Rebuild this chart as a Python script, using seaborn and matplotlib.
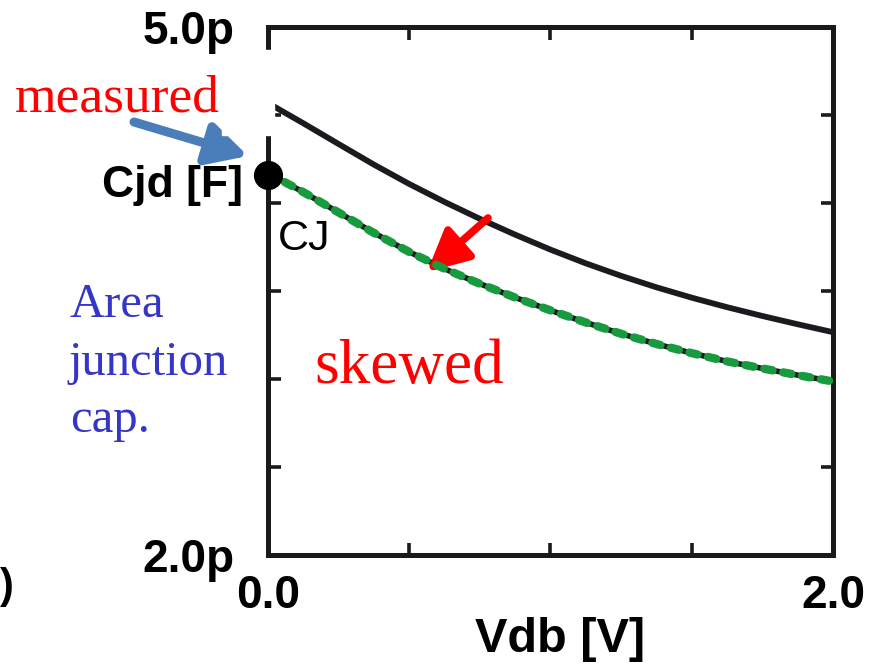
import pandas as pd
import matplotlib.pyplot as plt
import seaborn as sns
from matplotlib import font_manager
from matplotlib.font_manager import FontProperties
from matplotlib.ticker import MultipleLocator
from matplotlib.patches import Rectangle

# values
vdb = [0.0, 0.125, 0.25, 0.375, 0.5, 0.625, 0.75, 0.875, 1.0,
       1.125, 1.25, 1.375, 1.5, 1.625, 1.75, 1.875, 2.0]
cj_upper = [4.568, 4.453, 4.335, 4.218, 4.108, 4.006, 3.910, 3.820, 3.735,
            3.657, 3.586, 3.521, 3.462, 3.408, 3.358, 3.311, 3.266]
cj_lower = [4.170, 4.062, 3.946, 3.830, 3.722, 3.626, 3.541, 3.463, 3.390,
            3.321, 3.257, 3.199, 3.147, 3.100, 3.060, 3.022, 2.986]
measured_v = [0.0]
measured_c = [4.16]
x_ticks = [0.0, 2.0]
x_tick_labels = ["0.0", "2.0"]
y_ticks = [2.0, 5.0]
y_tick_labels = ["2.0p", "5.0p"]

W, H = 878, 669

sns.set_theme(style="ticks")
plt.rcParams['font.family'] = ['Liberation Sans', 'DejaVu Sans']
plt.rcParams['text.color'] = 'black'
plt.rcParams['xtick.color'] = 'black'
plt.rcParams['ytick.color'] = 'black'

# axis numbers are in a narrow bold face; use Liberation Sans Narrow if it is there
names = {f.name for f in font_manager.fontManager.ttflist}
if 'Liberation Sans Narrow' in names:
    cond_fp = FontProperties(family=['Liberation Sans Narrow', 'DejaVu Sans'], weight="bold")
    tick_size, xlabel_size = 36, 39
else:
    cond_fp = FontProperties(family=['Liberation Sans', 'DejaVu Sans'], weight="bold")
    tick_size, xlabel_size = 33, 35

serif = ['Liberation Serif', 'DejaVu Serif']


def fx(px):
    return px / W


def fy(py):
    return 1 - py / H


fig = plt.figure(figsize=(W / 100, H / 100), dpi=100)
fig.patch.set_facecolor("white")
ax = fig.add_axes([fx(268), fy(555), (833 - 268) / W, (555 - 27) / H])
ax.set_facecolor("white")

df_up = pd.DataFrame({"Vdb": vdb, "C": cj_upper})
df_lo = pd.DataFrame({"Vdb": vdb, "C": cj_lower})

sns.lineplot(data=df_up, x="Vdb", y="C", ax=ax, color="#1c1a1e", lw=4.2, zorder=3)
sns.lineplot(data=df_lo, x="Vdb", y="C", ax=ax, color="#1c1a1e", lw=4.0, zorder=3)
ln = sns.lineplot(data=df_lo, x="Vdb", y="C", ax=ax, color="#189a3e", lw=6, zorder=4)
ln.lines[-1].set_dashes([1.0, 1.3])
ln.lines[-1].set_dash_capstyle("round")

ax.plot(measured_v, measured_c, "o", color="black", ms=20, clip_on=False, zorder=6)

ax.set_xlim(0, 2)
ax.set_ylim(2, 5)
ax.set_xticks(x_ticks)
ax.set_xticklabels(x_tick_labels)
ax.set_yticks(y_ticks)
ax.set_yticklabels(y_tick_labels)
ax.xaxis.set_minor_locator(MultipleLocator(0.5))
ax.yaxis.set_minor_locator(MultipleLocator(0.5))
ax.tick_params(which="both", direction="in", top=True, right=True,
               width=2.6, color="#1a1a1a")
ax.tick_params(which="major", length=0)
ax.tick_params(which="minor", length=9)
ax.tick_params(axis="y", pad=24)
ax.tick_params(axis="x", pad=14)
for lab in ax.get_xticklabels() + ax.get_yticklabels():
    lab.set_fontproperties(cond_fp)
    lab.set_fontsize(tick_size)
    lab.set_color("black")
ax.set_xlabel("")
ax.set_ylabel("")
for s in ax.spines.values():
    s.set_linewidth(3.6)
    s.set_color("#1a1a1a")

# white patch that hides a piece of the left spine
fig.add_artist(Rectangle((fx(222), fy(135)), (274 - 222) / W, (135 - 50) / H,
                         transform=fig.transFigure, color="white", zorder=10))

t = fig.text(fx(560), fy(640), "Vdb [V]", ha="center", va="center")
t.set_fontproperties(cond_fp)
t.set_fontsize(xlabel_size)
fig.text(fx(243), fy(186), "Cjd [F]", fontweight="bold", fontsize=32,
         ha="right", va="center")
fig.text(fx(278), fy(250), "CJ", fontsize=31, ha="left", va="baseline")
fig.text(fx(0), fy(598), ")", fontweight="bold", fontsize=30, ha="left", va="baseline")

fig.text(fx(15), fy(112), "measured", family=serif, color="red", fontsize=38.5,
         ha="left", va="baseline")
fig.text(fx(314), fy(383), "skewed", family=serif, color="red", fontsize=45.5,
         ha="left", va="baseline")
blue = "#3535c8"
fig.text(fx(70), fy(317), "Area", family=serif, color=blue, fontsize=35, va="baseline")
fig.text(fx(68), fy(375), "junction", family=serif, color=blue, fontsize=35, va="baseline")
fig.text(fx(70), fy(432), "cap.", family=serif, color=blue, fontsize=35, va="baseline")

ax.annotate("", xy=(248, H - 156), xycoords="figure pixels",
            xytext=(134, H - 122), textcoords="figure pixels",
            arrowprops=dict(arrowstyle="-|>,head_length=1.5,head_width=0.8",
                            mutation_scale=16, lw=6.5, color="#4a7ebb",
                            shrinkA=0, shrinkB=0))
ax.annotate("", xy=(427, H - 272), xycoords="figure pixels",
            xytext=(488, H - 218), textcoords="figure pixels",
            arrowprops=dict(arrowstyle="-|>,head_length=1.4,head_width=0.7",
                            mutation_scale=18, lw=5.5, color="red",
                            shrinkA=0, shrinkB=0))

fig.savefig("out.png", dpi=100)
